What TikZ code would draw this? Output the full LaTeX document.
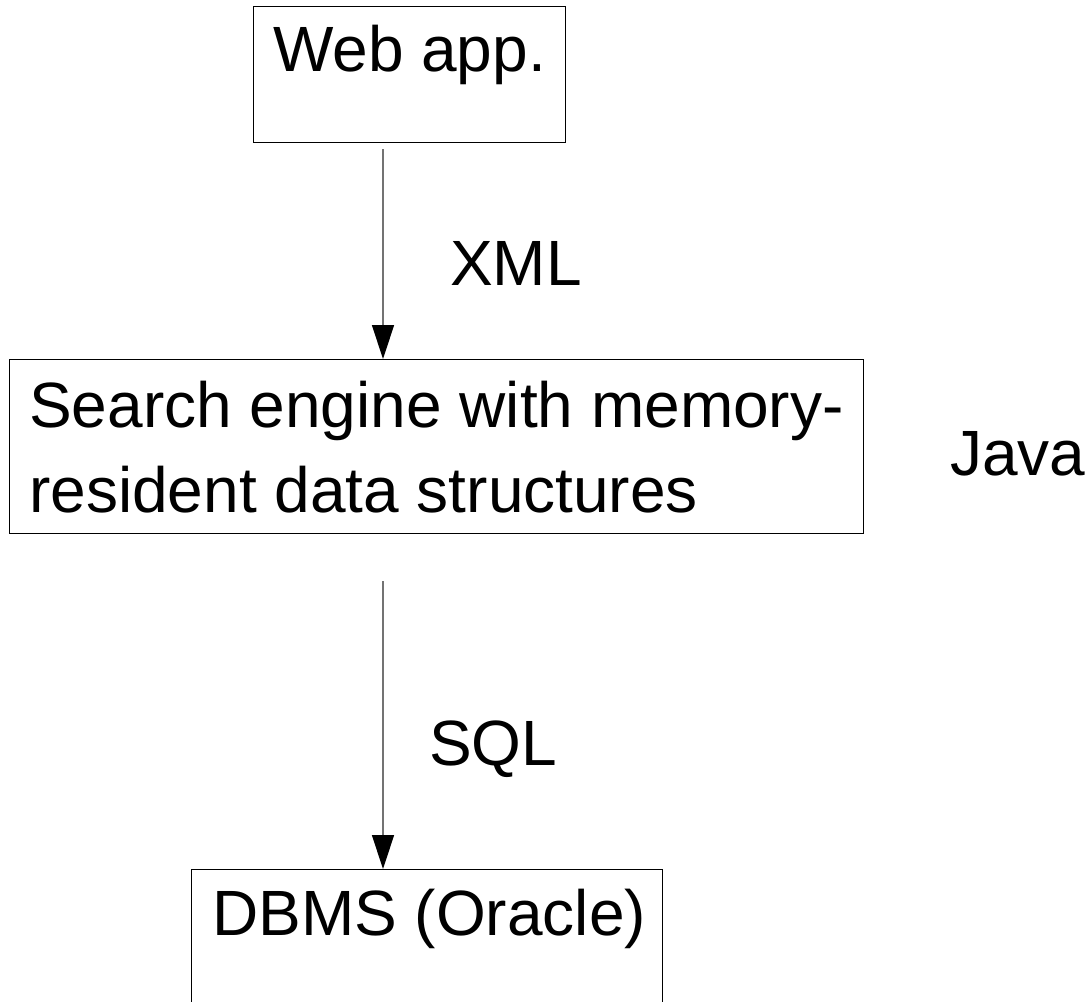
\documentclass[tikz,border=0pt]{standalone}
\usepackage{fontspec}
\setmainfont{Liberation Sans}
\usetikzlibrary{arrows.meta}
\begin{document}
\begin{tikzpicture}[x=1pt,y=-1pt,
  boxline/.style={draw=black,line width=1pt},
  boxtext/.style={anchor=base west,inner sep=0pt,font=\fontsize{64}{85}\selectfont},
  labeltext/.style={anchor=base west,inner sep=0pt,font=\fontsize{64}{76}\selectfont},
  flow/.style={draw=black!55,line width=1.4pt,-{Triangle[length=34pt,width=22pt,color=black]}}]
  \useasboundingbox (0,0) rectangle (1091,1001);
  % boxes
  \draw[boxline] (253.5,6) rectangle (565,142);
  \draw[boxline] (9,359) rectangle (863.5,533);
  \draw[boxline] (191.5,869) rectangle (662,1010);
  % box anchors for the connectors
  \coordinate (webout) at (383,149);
  \coordinate (searchin) at (383,359);
  \coordinate (searchout) at (383,581);
  \coordinate (dbin) at (383,869);
  % box texts
  \node[boxtext] (web) at (273,71.7) {Web app.};
  \node[boxtext] (search1) at (29,427) {Search engine with memory-};
  \node[boxtext] (search2) at (29,512) {resident data structures};
  \node[boxtext] (dbms) at (212,935) {DBMS (Oracle)};
  % side labels
  \node[labeltext] (xml) at (450,285) {XML};
  \node[labeltext] (java) at (950,475) {Java};
  \node[labeltext] (sql) at (429,765) {SQL};
  % connectors
  \draw[flow] (webout) -- (searchin);
  \draw[flow] (searchout) -- (dbin);
\end{tikzpicture}
\end{document}
